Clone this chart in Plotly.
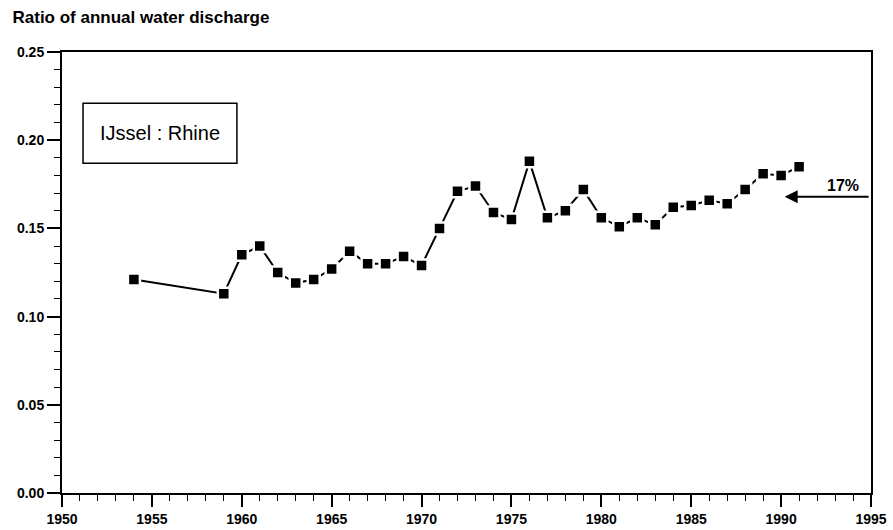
import plotly.graph_objects as go

# --- data ---
years = [1954, 1959, 1960, 1961, 1962, 1963, 1964, 1965, 1966, 1967, 1968,
         1969, 1970, 1971, 1972, 1973, 1974, 1975, 1976, 1977, 1978, 1979,
         1980, 1981, 1982, 1983, 1984, 1985, 1986, 1987, 1988, 1989, 1990, 1991]
ratio = [0.121, 0.113, 0.135, 0.140, 0.125, 0.119, 0.121, 0.127, 0.137, 0.130, 0.130,
         0.134, 0.129, 0.150, 0.171, 0.174, 0.159, 0.155, 0.188, 0.156, 0.160, 0.172,
         0.156, 0.151, 0.156, 0.152, 0.162, 0.163, 0.166, 0.164, 0.172, 0.181, 0.180, 0.185]

x_ticks = [1950, 1955, 1960, 1965, 1970, 1975, 1980, 1985, 1990, 1995]
y_ticks = [0.00, 0.05, 0.10, 0.15, 0.20, 0.25]
y_labels = ["0.00", "0.05", "0.10", "0.15", "0.20", "0.25"]

share_level = 0.168
share_label = "17%"

FONT = "Liberation Sans, Arial, sans-serif"


def bold(s):
    return "<b>" + str(s) + "</b>"


fig = go.Figure()

# white marker outline breaks the line next to each point, as in the scan
fig.add_trace(go.Scatter(
    x=years, y=ratio,
    mode='lines+markers',
    line=dict(color='black', width=2),
    marker=dict(symbol='square', size=12, color='black',
                line=dict(color='white', width=2.5)),
    showlegend=False
))

# label box
fig.add_shape(type='rect', xref='x', yref='y',
              x0=1951.17, x1=1959.73, y0=0.187, y1=0.221,
              line=dict(color='black', width=1.5), fillcolor='white')
fig.add_annotation(x=1955.45, y=0.204, xref='x', yref='y',
                   text="IJssel : Rhine", showarrow=False,
                   font=dict(family=FONT, size=20, color='black'))

# 17% arrow
fig.add_annotation(x=1990.2, y=share_level, ax=1994.95, ay=share_level,
                   xref='x', yref='y', axref='x', ayref='y',
                   text="", showarrow=True, arrowhead=2, arrowsize=1.3,
                   arrowwidth=2, arrowcolor='black')
fig.add_annotation(x=1993.45, y=0.1745, xref='x', yref='y',
                   text=bold(share_label), showarrow=False,
                   font=dict(family=FONT, size=16, color='black'))

fig.update_layout(
    width=893, height=530,
    paper_bgcolor='white', plot_bgcolor='white',
    margin=dict(l=62, r=22, t=52, b=37),
    font=dict(family=FONT, size=12, color='black'),
    title=dict(text=bold("Ratio of annual water discharge"), x=0.014, xanchor='left',
               y=0.968, yanchor='middle',
               font=dict(family=FONT, size=17, color='black')),
    xaxis=dict(range=[1950, 1995], tickvals=x_ticks, ticktext=[bold(t) for t in x_ticks],
               ticks='outside', ticklen=12,
               tickwidth=1.5, tickcolor='black', showgrid=False, zeroline=False,
               showline=True, linecolor='black', linewidth=2, mirror=True,
               automargin=False,
               tickfont=dict(family=FONT, size=14, color='black'),
               minor=dict(dtick=1, ticks='outside', ticklen=6, tickwidth=1.2,
                          tickcolor='black', showgrid=False)),
    yaxis=dict(range=[0, 0.25], tickvals=y_ticks, ticktext=[bold(t) for t in y_labels],
               ticks='outside', ticklen=13, tickwidth=1.5, tickcolor='black', showgrid=False,
               zeroline=False, showline=True, linecolor='black', linewidth=2,
               mirror=True, automargin=False,
               tickfont=dict(family=FONT, size=14, color='black'),
               minor=dict(dtick=0.01, ticks='outside', ticklen=6, tickwidth=1.2,
                          tickcolor='black', showgrid=False)),
)

fig.write_html("out.html", config={'displayModeBar': False},
               post_script="document.body.style.margin='0';")
